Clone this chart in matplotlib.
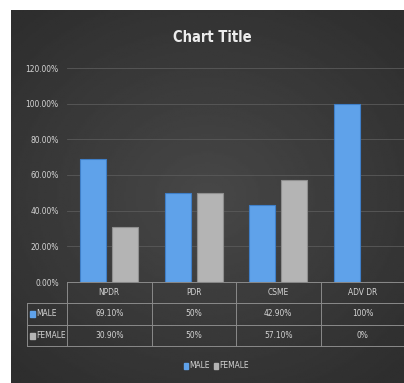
import matplotlib.pyplot as plt
import numpy as np
from matplotlib.patches import Rectangle

categories = ["NPDR", "PDR", "CSME", "ADV DR"]
male = [69.1, 50, 42.9, 100]
female = [30.9, 50, 57.1, 0]
male_labels = ["69.10%", "50%", "42.90%", "100%"]
female_labels = ["30.90%", "50%", "57.10%", "0%"]
yticks = [0, 20, 40, 60, 80, 100, 120]

plt.rcParams['font.family'] = ['DejaVu Sans']
plt.rcParams['font.stretch'] = 'condensed'
txt = '#d4d4d4'
blue = '#5fa2ea'
blue_edge = '#3f7fc8'
grey = '#b4b4b4'
grey_edge = '#8f8f8f'

W, H = 404, 383
fig = plt.figure(figsize=(W / 100, H / 100), dpi=100, facecolor='white')

def px(x0, y0, x1, y1):
    # pixel box (top-left origin) -> figure fraction rect
    return [x0 / W, 1 - y1 / H, (x1 - x0) / W, (y1 - y0) / H]

# dark background with soft radial highlight
bg = fig.add_axes(px(11, 10, W, H))
yy, xx = np.mgrid[-1:1:200j, -1:1:200j]
r = np.sqrt(xx ** 2 + (yy * 1.1) ** 2)
bg.imshow(0.28 - 0.07 * np.clip(r, 0, 1.4), cmap='gray', vmin=0, vmax=1,
          aspect='auto', extent=[0, 1, 0, 1])
bg.axis('off')

# main plot area
left, right, top, bottom = 67, 405, 68, 282
ax = fig.add_axes(px(left, top, right, bottom))
ax.patch.set_alpha(0)
x = np.arange(len(categories))
w = 0.31
ax.bar(x - 0.19, male, w, color=blue, edgecolor=blue_edge, linewidth=0.8, zorder=3)
ax.bar(x + 0.19, female, w, color=grey, edgecolor=grey_edge, linewidth=0.8, zorder=3)
ax.set_xlim(-0.5, 3.5)
ax.set_ylim(0, 120)
ax.set_yticks(yticks)
ax.set_yticklabels([f"{v:.2f}%" for v in yticks], color=txt, fontsize=6)
ax.yaxis.grid(True, color='#5a5a5a', linewidth=0.6, zorder=0)
ax.tick_params(axis='y', length=0, pad=6)
ax.set_xticks([])
for s in ax.spines.values():
    s.set_visible(False)

fig.text(212 / W, 1 - 37 / H, "Chart Title", color='#ececec', fontsize=10.5,
         fontweight='bold', ha='center', va='center')

# data table below the axis
unit = (right - left) / 4.0
tleft = 27
tx0 = -0.5 - (left - tleft) / unit
row_y = [282, 303, 325, 346]
tab = fig.add_axes(px(tleft, row_y[0], right, row_y[-1]))
tab.set_xlim(tx0, 3.5)
tab.set_ylim(row_y[-1], row_y[0])
tab.axis('off')
lc = '#8a8a8a'
lw = 0.7
tab.plot([-0.5, 3.5], [row_y[0]] * 2, color=lc, lw=lw, clip_on=False)
for yv in row_y[1:]:
    tab.plot([tx0, 3.5], [yv, yv], color=lc, lw=lw, clip_on=False)
tab.plot([tx0, tx0], [row_y[1], row_y[-1]], color=lc, lw=lw, clip_on=False)
for xv in np.arange(-0.5, 3.6, 1.0):
    tab.plot([xv, xv], [row_y[0], row_y[-1]], color=lc, lw=lw, clip_on=False)

ymid = [(row_y[i] + row_y[i + 1]) / 2 for i in range(3)]
for i, c in enumerate(categories):
    tab.text(i, ymid[0], c, color=txt, fontsize=6, ha='center', va='center')
    tab.text(i, ymid[1], male_labels[i], color=txt, fontsize=6, ha='center', va='center')
    tab.text(i, ymid[2], female_labels[i], color=txt, fontsize=6, ha='center', va='center')
for yv, name, col in [(ymid[1], "MALE", blue), (ymid[2], "FEMALE", grey)]:
    tab.add_patch(Rectangle((tx0 + 0.04, yv - 3), 0.05, 6, color=col))
    tab.text(tx0 + 0.11, yv, name, color=txt, fontsize=6, ha='left', va='center')

# legend
leg = fig.add_axes(px(11, 356, W, 376))
leg.set_xlim(0, W - 11)
leg.set_ylim(0, 20)
leg.axis('off')
lx = 184 - 11
leg.add_patch(Rectangle((lx, 7), 4, 6, color=blue))
leg.text(lx + 5, 10, "MALE", color=txt, fontsize=6, va='center')
leg.add_patch(Rectangle((lx + 30, 7), 4, 6, color=grey))
leg.text(lx + 35, 10, "FEMALE", color=txt, fontsize=6, va='center')

fig.savefig('out.png', dpi=100, facecolor='white')
